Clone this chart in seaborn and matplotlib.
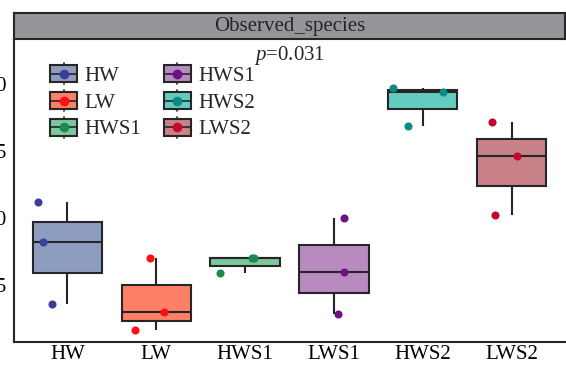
import numpy as np
import pandas as pd
import matplotlib
matplotlib.use("Agg")
import matplotlib.pyplot as plt
from matplotlib.legend_handler import HandlerBase
from matplotlib.patches import Rectangle
from matplotlib.lines import Line2D
import seaborn as sns

# ---- data -------------------------------------------------------------
groups = ["HW", "LW", "HWS1", "LWS1", "HWS2", "LWS2"]
hw   = [955.9, 940.9, 917.9]
lw   = [935.2, 915.0, 908.1]
hws1 = [935.0, 935.0, 929.3]
lws1 = [949.9, 929.9, 914.2]
hws2 = [998.6, 997.1, 984.3]
lws2 = [986.0, 973.0, 951.1]
series = [hw, lw, hws1, lws1, hws2, lws2]

legend_labels = ["HW", "LW", "HWS1", "HWS1", "HWS2", "LWS2"]
y_ticks = [925, 950, 975, 1000]
title = "Observed_species"
p_text = r"$\it{p}$=0.031"

# horizontal jitter of the sample dots (category units)
jitter = [
    [-0.33, -0.27, -0.17],
    [-0.07, 0.09, -0.24],
    [0.075, 0.10, -0.28],
    [0.11, 0.11, 0.05],
    [-0.33, 0.23, -0.17],
    [-0.22, 0.06, -0.19],
]

fill_colors = ["#8E9CC0", "#FF8068", "#7CC79B", "#B98AC0", "#62CDBE", "#C9818A"]
dot_colors = ["#3A3F9A", "#FF1010", "#1B8A4F", "#6A1385", "#0E8A85", "#C4082E"]
edge = "#262626"

df = pd.DataFrame({
    "group": np.repeat(groups, [len(s) for s in series]),
    "value": np.concatenate(series),
})

# ---- style ------------------------------------------------------------
sns.set_theme(style="white")
plt.rcParams["font.family"] = ["Liberation Serif", "DejaVu Serif"]
plt.rcParams["mathtext.fontset"] = "custom"
plt.rcParams["mathtext.it"] = "Liberation Serif:italic"
plt.rcParams["mathtext.rm"] = "Liberation Serif"
FS = 15

W, H = 566, 365
fig = plt.figure(figsize=(W / 100, H / 100), dpi=100)
ax = fig.add_axes([14 / W, (H - 342) / H, 551 / W, 303 / H])
strip = fig.add_axes([14 / W, (H - 39) / H, 551 / W, 26 / H])

sns.boxplot(
    data=df, x="group", y="value", hue="group", order=groups, hue_order=groups,
    palette=fill_colors, width=0.78, linecolor=edge, linewidth=1.5,
    showcaps=False, showfliers=False, legend=False, saturation=1, ax=ax,
)

for i, vals in enumerate(series):
    ax.scatter(np.array(jitter[i]) + i, vals, s=34, color=dot_colors[i],
               zorder=4, linewidths=0)

ax.set_xlim(-0.6, 5.6)
ax.set_ylim(903.7, 1016.8)
ax.set_yticks(y_ticks)
ax.set_yticklabels([str(t) for t in y_ticks])
ax.set_xlabel("")
ax.set_ylabel("")
ax.tick_params(axis="both", direction="in", length=5, width=1.2, color=edge,
               labelsize=FS, labelcolor="black")
ax.tick_params(axis="y", pad=5)
ax.tick_params(axis="x", pad=2.5)
for side in ["top", "right"]:
    ax.spines[side].set_visible(False)
for side in ["left", "bottom"]:
    ax.spines[side].set_color(edge)
    ax.spines[side].set_linewidth(1.5)

ax.text(0.5, 0.946, p_text, transform=ax.transAxes, ha="center", va="center",
        fontsize=FS)

# strip header
strip.set_facecolor("#939598")
strip.set_xticks([])
strip.set_yticks([])
for s in strip.spines.values():
    s.set_color(edge)
    s.set_linewidth(1.5)
strip.text(0.5, 0.5, title, ha="center", va="center", fontsize=FS,
           transform=strip.transAxes)


# legend keys drawn as miniature boxplots
class BoxKey:
    def __init__(self, face, dot):
        self.face = face
        self.dot = dot


class BoxKeyHandler(HandlerBase):
    def create_artists(self, legend, orig_handle, xdescent, ydescent, width,
                       height, fontsize, trans):
        x0, y0 = -xdescent, -ydescent
        cx, cy = x0 + width / 2, y0 + height / 2
        bh = height * 0.78
        whisk = Line2D([cx, cx], [y0, y0 + height], color=edge, lw=1.2,
                       transform=trans)
        rect = Rectangle((x0, cy - bh / 2), width, bh, facecolor=orig_handle.face,
                         edgecolor=edge, lw=1.5, transform=trans)
        med = Line2D([x0, x0 + width], [cy, cy], color=edge, lw=1.2,
                     transform=trans)
        dot = Line2D([cx], [cy], marker="o", ms=7, color=orig_handle.dot,
                     markeredgewidth=0, transform=trans)
        return [whisk, rect, med, dot]


handles = [BoxKey(f, d) for f, d in zip(fill_colors, dot_colors)]
ax.legend(handles, legend_labels, handler_map={BoxKey: BoxKeyHandler()},
          ncol=2, loc="upper left", bbox_to_anchor=(36 / 551, (342 - 63) / 303),
          frameon=False, fontsize=FS, handlelength=1.3, handleheight=1.2,
          labelspacing=0.2, handletextpad=0.34, columnspacing=1.1,
          borderpad=0, borderaxespad=0)

fig.savefig("out.png", dpi=100)
